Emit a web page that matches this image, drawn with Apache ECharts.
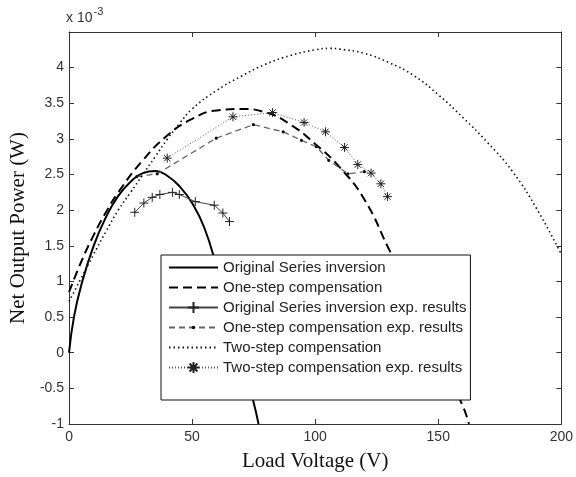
<!DOCTYPE html>
<html>
<head>
    <meta charset="utf-8">
    <title>Net Output Power</title>
    <script src="https://cdn.jsdelivr.net/npm/echarts@6/dist/echarts.min.js"></script>
</head>
<body style="margin:0;background:#fff;">
    <div id="main" style="width:576px;height:477px;"></div>
    <script type="text/javascript">
        // values in units of 1e-3 W, x in V
        var seriesNames = [
            'Original Series inversion',
            'One-step compensation',
            'Original Series inversion exp. results',
            'One-step compensation exp. results',
            'Two-step compensation',
            'Two-step compensation exp. results'
        ];

        var origSim = [
            [0, 0], [2, 0.5], [5, 0.95], [10, 1.5], [15, 1.9], [20, 2.2], [25, 2.4],
            [30, 2.52], [35, 2.55], [40, 2.48], [45, 2.33], [50, 2.1], [55, 1.75],
            [60, 1.2], [65, 0.57], [70, -0.06], [75, -0.7], [77, -1]
        ];
        var oneStepSim = [
            [0, 0.85], [5, 1.28], [10, 1.65], [15, 1.97], [20, 2.25], [30, 2.7], [40, 3.05],
            [50, 3.28], [60, 3.4], [70, 3.42], [80, 3.37], [90, 3.2], [100, 2.93],
            [110, 2.6], [120, 2.15], [130, 1.45], [140, 0.75], [150, 0.0], [160, -0.75], [162.5, -1]
        ];
        var origExp = [
            [26.7, 1.97], [30.4, 2.1], [33.8, 2.18], [36.9, 2.22], [42, 2.25],
            [44.8, 2.22], [51.3, 2.12], [59, 2.07], [62.5, 1.96], [65.2, 1.84]
        ];
        var oneStepExp = [
            [27.5, 2.47], [35.8, 2.51], [59.8, 3.01], [74.9, 3.2], [87, 3.1], [94.4, 2.98],
            [100.5, 2.89], [105.5, 2.7], [113.3, 2.51], [120, 2.54]
        ];
        var twoStepSim = [
            [0, 0.72], [5, 1.05], [10, 1.38], [15, 1.7], [20, 2.0], [25, 2.25], [30, 2.5],
            [35, 2.75], [40, 3.0], [45, 3.22], [50, 3.42], [60, 3.68], [70, 3.88], [80, 4.05],
            [90, 4.17], [100, 4.25], [106, 4.27], [110, 4.26], [120, 4.2], [130, 4.07],
            [140, 3.89], [150, 3.62], [160, 3.3], [170, 2.95], [180, 2.55], [190, 2.02], [200, 1.38]
        ];
        var twoStepExp = [
            [39.9, 2.73], [66.6, 3.31], [82.7, 3.37], [95.5, 3.23], [104.2, 3.1],
            [111.9, 2.88], [117.3, 2.64], [122.7, 2.52], [126.7, 2.37], [129.4, 2.19]
        ];

        var xTicks = { min: 0, max: 200, interval: 50 };
        var yTicks = { min: -1, max: 4.5, interval: 0.5 };

        var plusPath = 'path://M5,0L5,10M0,5L10,5';
        var starPath = 'path://M5,0L5,10M0,5L10,5M1.5,1.5L8.5,8.5M8.5,1.5L1.5,8.5';
        // small dot inside a 10x10 box so it stays small in the legend too
        var dotPath = 'path://M0,0L0,0M10,10L10,10M5,3.4A1.6,1.6,0,1,1,4.99,3.4Z';

        var myChart = echarts.init(document.getElementById('main'));

        var axisCommon = {
            axisLine: { show: true, onZero: false, lineStyle: { color: '#333', width: 1 } },
            axisTick: { show: true, inside: true, length: 5, lineStyle: { color: '#333' } },
            splitLine: { show: false }
        };

        var option = {
            animation: false,
            backgroundColor: '#fff',
            grid: { left: 68, top: 32, right: 13, bottom: 52 },
            xAxis: [
                Object.assign({
                    type: 'value', position: 'bottom',
                    min: xTicks.min, max: xTicks.max, interval: xTicks.interval,
                    name: 'Load Voltage (V)', nameLocation: 'middle', nameGap: 27,
                    nameTextStyle: { fontFamily: 'Liberation Serif', fontSize: 21, color: '#111' },
                    axisLabel: { margin: 6, fontFamily: 'Liberation Sans', fontSize: 14, color: '#333' }
                }, axisCommon),
                Object.assign({
                    type: 'value', position: 'top',
                    min: xTicks.min, max: xTicks.max, interval: xTicks.interval,
                    axisLabel: { show: false }
                }, axisCommon)
            ],
            yAxis: [
                Object.assign({
                    type: 'value', position: 'left',
                    min: yTicks.min, max: yTicks.max, interval: yTicks.interval,
                    name: 'Net Output Power (W)', nameLocation: 'middle', nameGap: 39,
                    nameTextStyle: { fontFamily: 'Liberation Serif', fontSize: 21, color: '#111' },
                    axisLabel: {
                        margin: 5, fontFamily: 'Liberation Sans', fontSize: 14, color: '#333',
                        formatter: function (v) { return v >= 4.5 ? '' : String(v); }
                    }
                }, axisCommon),
                Object.assign({
                    type: 'value', position: 'right',
                    min: yTicks.min, max: yTicks.max, interval: yTicks.interval,
                    axisLabel: { show: false }
                }, axisCommon)
            ],
            legend: {
                orient: 'vertical',
                left: 161, top: 255,
                padding: [5, 4, 25, 7],
                itemWidth: 49, itemHeight: 14, itemGap: 5,
                backgroundColor: '#fff',
                borderColor: '#111', borderWidth: 1,
                textStyle: { fontFamily: 'Liberation Sans', fontSize: 15, color: '#222', lineHeight: 14 },
                data: [
                    { name: seriesNames[0], itemStyle: { opacity: 0 } },
                    { name: seriesNames[1], itemStyle: { opacity: 0 } },
                    { name: seriesNames[2] },
                    { name: seriesNames[3] },
                    { name: seriesNames[4], itemStyle: { opacity: 0 } },
                    { name: seriesNames[5] }
                ]
            },
            graphic: [{
                type: 'text', left: 66, top: 6,
                style: {
                    text: '{a|x 10}{b|-3}',
                    rich: {
                        a: { fontFamily: 'Liberation Sans', fontSize: 14, fill: '#333', padding: [8, 0, 0, 0] },
                        b: { fontFamily: 'Liberation Sans', fontSize: 11, fill: '#333', padding: [0, 0, 6, 1] }
                    }
                }
            }],
            series: [
                {
                    name: seriesNames[0], type: 'line', data: origSim, smooth: true,
                    symbol: 'none', color: '#000',
                    lineStyle: { color: '#000', width: 2 }
                },
                {
                    name: seriesNames[1], type: 'line', data: oneStepSim, smooth: true,
                    symbol: 'none', color: '#000',
                    lineStyle: { color: '#000', width: 2, type: [9, 5] }
                },
                {
                    name: seriesNames[2], type: 'line', data: origExp,
                    symbol: plusPath, symbolSize: 9, color: '#333',
                    itemStyle: { color: '#333', borderColor: '#222', borderWidth: 1 },
                    lineStyle: { color: '#444', width: 1 }
                },
                {
                    name: seriesNames[3], type: 'line', data: oneStepExp,
                    symbol: dotPath, symbolSize: 10, color: '#222',
                    itemStyle: { color: '#111' },
                    lineStyle: { color: '#666', width: 1.3, type: [6, 4] }
                },
                {
                    name: seriesNames[4], type: 'line', data: twoStepSim, smooth: true,
                    symbol: 'none', color: '#111',
                    lineStyle: { color: '#111', width: 1.6, type: [1.5, 3] }
                },
                {
                    name: seriesNames[5], type: 'line', data: twoStepExp,
                    symbol: starPath, symbolSize: 9, color: '#222',
                    itemStyle: { color: '#222', borderColor: '#222', borderWidth: 1 },
                    lineStyle: { color: '#555', width: 1, type: [1, 2] }
                }
            ]
        };

        myChart.setOption(option);
    </script>
</body>
</html>
